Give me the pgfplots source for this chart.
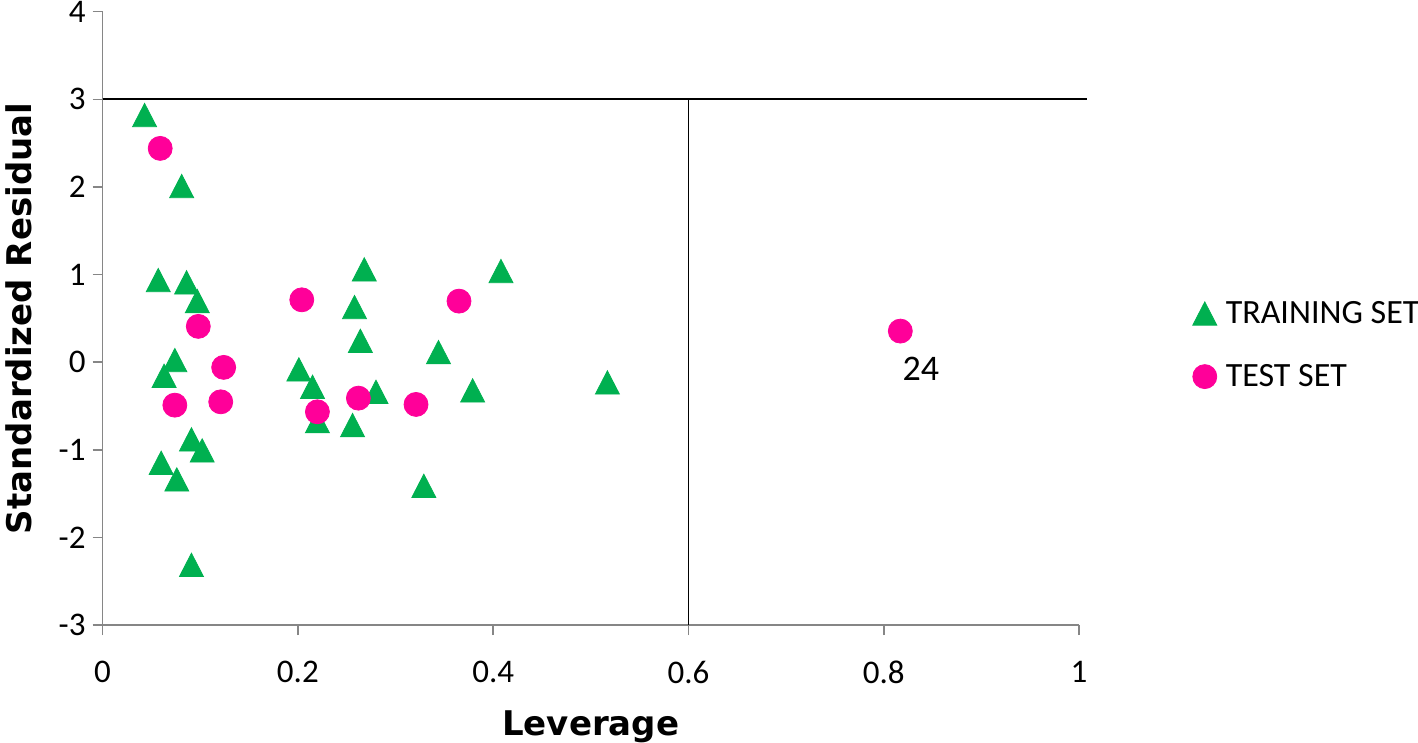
\documentclass[border=0pt]{standalone}
\usepackage{pgfplots}
\pgfplotsset{compat=1.18}
\usepackage{fontspec}
\setmainfont{Carlito}
\newfontfamily\titlefont{DejaVu Sans}
\definecolor{trgreen}{RGB}{0,176,80}
\definecolor{tspink}{RGB}{255,0,153}
\definecolor{axgray}{RGB}{134,134,134}
\begin{document}
\begin{tikzpicture}
\begin{axis}[
  scale only axis, width=488.2pt, height=306.7pt,
  xmin=0, xmax=1, ymin=-3, ymax=4,
  xtick={0,0.2,0.4,0.6,0.8,1}, ytick={-3,-2,-1,0,1,2,3,4},
  xticklabels={0,0.2,0.4,0.6,0.8,1},
  /pgf/number format/assume math mode=true,
  axis lines=left, axis line style={-, axgray, line width=0.8pt},
  tick style={axgray, line width=0.8pt}, tick align=outside, major tick length=5pt,
  ticklabel style={font=\fontsize{16.5}{19}\selectfont, text=black},
  xticklabel style={yshift=-9.5pt},
  clip=false,
  xlabel={Leverage}, ylabel={Standardized Residual},
  label style={font=\titlefont\bfseries\fontsize{17}{20}\selectfont},
  xlabel style={at={(axis description cs:0.5,-0.1793)}, anchor=base},
  ylabel style={at={(axis description cs:-0.0733,0.5)}, anchor=base},
  legend style={at={(axis description cs:1.1157,0.4565)}, anchor=west, draw=none, fill=none,
    font=\fontsize{17}{19}\selectfont, row sep=15pt, cells={anchor=west}, inner sep=0pt},
  legend image code/.code={\draw[#1] plot coordinates {(6pt,0pt)}; \path (0pt,0pt) (14.3pt,0pt);},
]
\addplot[black, line width=0.85pt, forget plot] coordinates {(0,3) (1.0078,3)};
\addplot[black, line width=0.85pt, forget plot] coordinates {(0.6,-3) (0.6,3)};
\addplot[only marks, mark=triangle*, mark size=6.93pt, color=trgreen,
  mark options={yshift=-1.94pt, yscale=1.12, fill=trgreen, draw=trgreen}]
coordinates {
(0.043,2.82) (0.081,2.01) (0.057,0.937) (0.086,0.911) (0.097,0.697)
(0.074,0.024) (0.063,-0.155) (0.091,-0.881) (0.102,-1.007) (0.060,-1.148)
(0.076,-1.338) (0.091,-2.313) (0.268,1.059) (0.258,0.629) (0.264,0.244)
(0.201,-0.082) (0.215,-0.281) (0.220,-0.673) (0.280,-0.338) (0.256,-0.718)
(0.408,1.040) (0.344,0.115) (0.379,-0.322) (0.329,-1.411) (0.517,-0.231)
};
\addlegendentry{TRAINING SET}
\addplot[only marks, mark=*, mark size=6pt, color=tspink,
  mark options={fill=tspink, draw=tspink}]
coordinates {
(0.059,2.44) (0.098,0.409) (0.124,-0.059) (0.074,-0.490) (0.121,-0.452)
(0.204,0.712) (0.220,-0.566) (0.262,-0.410) (0.365,0.697) (0.321,-0.482)
(0.817,0.355)
};
\addlegendentry{TEST SET}
\node[font=\fontsize{18}{21}\selectfont] at (axis cs:0.838,-0.071) {24};
\end{axis}
\pgfresetboundingbox
\path (-51.3pt,-58.5pt) rectangle (657.7pt,312.55pt);
\end{tikzpicture}
\end{document}
